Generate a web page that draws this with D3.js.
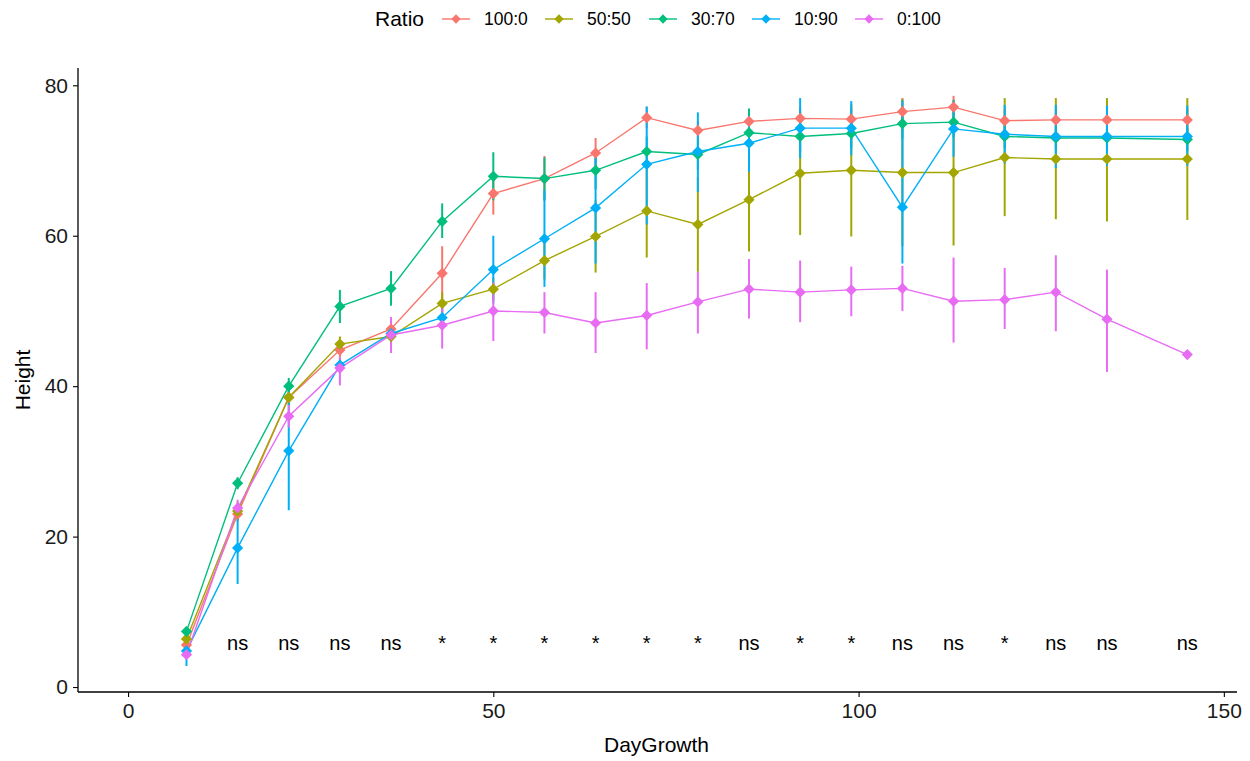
<!DOCTYPE html>
<html>
<head>
<meta charset="utf-8">
<script src="https://cdn.jsdelivr.net/npm/d3@7"></script>
<style>
  html, body { margin: 0; padding: 0; background: #ffffff; }
  svg { display: block; font-family: "Liberation Sans", Arial, sans-serif; }
</style>
</head>
<body>
<svg id="chart" width="1250" height="761"></svg>
<script>
// Sampling days
const days = [8, 15, 22, 29, 36, 43, 50, 57, 64, 71, 78, 85, 92, 99, 106, 113, 120, 127, 134, 145];

// Group names (Ratio) and colours
const ratios = ["100:0", "50:50", "30:70", "10:90", "0:100"];
const colors = ["#F8766D", "#A3A500", "#00BF7D", "#00B0F6", "#E76BF3"];

// Mean height per group
const mean100_0 = [5.6, 23.0, 38.5, 44.8, 47.6, 55.0, 65.6, 67.6, 71.0, 75.7, 74.0, 75.2, 75.6, 75.5, 76.5, 77.1, 75.3, 75.4, 75.4, 75.4];
const mean50_50 = [6.4, 23.4, 38.5, 45.6, 46.6, 51.0, 52.9, 56.7, 59.9, 63.3, 61.5, 64.8, 68.3, 68.7, 68.4, 68.4, 70.4, 70.2, 70.2, 70.2];
const mean30_70 = [7.4, 27.1, 40.0, 50.6, 53.0, 61.9, 67.9, 67.6, 68.7, 71.2, 70.8, 73.7, 73.2, 73.6, 74.9, 75.1, 73.2, 73.0, 73.0, 72.8];
const mean10_90 = [4.8, 18.5, 31.4, 42.8, 47.0, 49.1, 55.5, 59.6, 63.7, 69.5, 71.2, 72.3, 74.3, 74.3, 63.8, 74.2, 73.5, 73.2, 73.2, 73.2];
const mean0_100 = [4.3, 23.8, 36.0, 42.4, 46.8, 48.1, 50.0, 49.8, 48.4, 49.4, 51.2, 52.9, 52.5, 52.8, 53.0, 51.3, 51.5, 52.5, 48.9, 44.2];

// Error bar lower / upper limits per group
const low100_0 = [5.1, 22.0, 37.5, 43.8, 46.6, 51.4, 62.8, 64.6, 69.0, 74.3, 72.8, 73.9, 74.1, 74.0, 74.7, 75.6, 73.8, 73.9, 73.9, 73.9];
const high100_0 = [6.1, 24.0, 39.5, 45.8, 48.6, 58.6, 68.4, 70.6, 73.0, 77.1, 75.2, 76.5, 77.1, 77.0, 78.3, 78.6, 76.8, 76.9, 76.9, 76.9];
const low50_50 = [5.9, 22.2, 37.5, 44.6, 45.6, 49.5, 51.4, 54.2, 55.1, 57.1, 55.2, 57.9, 60.1, 59.9, 58.6, 58.7, 62.6, 62.2, 61.9, 62.1];
const high50_50 = [6.9, 24.6, 39.5, 46.6, 47.6, 52.5, 54.4, 59.2, 64.7, 69.5, 67.8, 71.7, 76.5, 77.5, 78.2, 78.1, 78.3, 78.3, 78.3, 78.3];
const low30_70 = [6.9, 26.3, 38.9, 48.4, 50.7, 59.7, 64.7, 64.8, 66.2, 69.2, 68.8, 70.5, 71.2, 71.6, 72.9, 73.1, 71.7, 71.5, 71.5, 71.3];
const high30_70 = [7.9, 27.9, 41.1, 52.8, 55.3, 64.3, 71.1, 70.4, 71.2, 73.2, 72.8, 76.9, 75.2, 75.6, 76.9, 77.1, 74.7, 74.5, 74.5, 74.3];
const low10_90 = [2.8, 13.7, 23.5, 41.8, 46.0, 47.8, 51.0, 53.2, 56.3, 61.5, 65.8, 68.5, 70.3, 70.7, 56.3, 70.5, 69.6, 69.0, 69.3, 69.3];
const high10_90 = [6.8, 23.3, 39.3, 43.8, 48.0, 50.4, 60.0, 66.0, 70.4, 77.2, 76.4, 76.0, 78.3, 77.9, 78.0, 78.0, 77.4, 77.4, 77.3, 77.3];
const low0_100 = [3.8, 22.7, 34.5, 40.1, 44.4, 45.0, 46.0, 47.0, 44.4, 44.9, 47.0, 49.0, 48.5, 49.3, 50.0, 45.8, 47.6, 47.3, 41.9, 44.2];
const high0_100 = [4.8, 24.9, 37.5, 43.8, 49.2, 51.2, 53.8, 52.5, 52.5, 53.7, 55.2, 56.9, 56.7, 55.9, 56.0, 57.1, 55.7, 57.4, 55.5, 44.2];

// Significance label for each day
const sigLabels = ["*", "ns", "ns", "ns", "ns", "*", "*", "*", "*", "*", "*", "ns", "*", "*", "ns", "ns", "*", "ns", "ns", "ns"];
const sigLabelY = 4.9;

// Axis ticks
const xTicks = [0, 50, 100, 150];
const yTicks = [0, 20, 40, 60, 80];

const means = [mean100_0, mean50_50, mean30_70, mean10_90, mean0_100];
const lows = [low100_0, low50_50, low30_70, low10_90, low0_100];
const highs = [high100_0, high50_50, high30_70, high10_90, high0_100];

const series = ratios.map((r, i) => ({
  name: r,
  color: colors[i],
  points: days.map((d, j) => ({ day: d, mean: means[i][j], lo: lows[i][j], hi: highs[i][j] }))
}));

const svg = d3.select("#chart");

const plotLeft = 78, plotRight = 1237, plotTop = 68, plotBottom = 692;

const x = d3.scaleLinear().domain([-6.85, 151.8]).range([plotLeft, plotRight]);
const y = d3.scaleLinear().domain([-0.66, 82.3]).range([plotBottom, plotTop]);

const plot = svg.append("g");

// Connecting lines
const line = d3.line().x(d => x(d.day)).y(d => y(d.mean));
plot.selectAll("path.series")
  .data(series)
  .join("path")
  .attr("class", "series")
  .attr("fill", "none")
  .attr("stroke", s => s.color)
  .attr("stroke-width", 1.4)
  .attr("d", s => line(s.points));

// Error bars (mean ± se)
series.forEach(s => {
  plot.append("g").selectAll("line")
    .data(s.points.filter(p => p.hi > p.lo))
    .join("line")
    .attr("x1", p => x(p.day)).attr("x2", p => x(p.day))
    .attr("y1", p => y(p.lo)).attr("y2", p => y(p.hi))
    .attr("stroke", s.color)
    .attr("stroke-width", 2);
});

// Significance labels
plot.append("g").selectAll("text")
  .data(days.map((d, i) => ({ day: d, label: sigLabels[i] })))
  .join("text")
  .attr("x", d => x(d.day))
  .attr("y", y(sigLabelY))
  .attr("text-anchor", "middle")
  .attr("font-size", 20)
  .attr("fill", "#000")
  .text(d => d.label);

// Diamond markers
const diamond = d3.symbol().type(d3.symbolDiamond2).size(80);
series.forEach(s => {
  plot.append("g").selectAll("path")
    .data(s.points)
    .join("path")
    .attr("transform", p => `translate(${x(p.day)},${y(p.mean)})`)
    .attr("d", diamond)
    .attr("fill", s.color);
});

// Axes
const xAxis = d3.axisBottom(x).tickValues(xTicks).tickSize(5).tickPadding(6);
const yAxis = d3.axisLeft(y).tickValues(yTicks).tickSize(5).tickPadding(5);

const gx = svg.append("g").attr("transform", `translate(0,${plotBottom})`).call(xAxis);
const gy = svg.append("g").attr("transform", `translate(${plotLeft},0)`).call(yAxis);

[gx, gy].forEach(g => {
  g.select(".domain").attr("stroke", "#000").attr("stroke-width", 1.3);
  g.selectAll(".tick line").attr("stroke", "#000").attr("stroke-width", 1.1);
  g.selectAll(".tick text").attr("fill", "#1a1a1a").attr("font-size", 21)
    .attr("font-family", "'Liberation Sans', Arial, sans-serif");
});
gx.select(".domain").attr("d", `M${plotLeft},0H${plotRight}`);
gy.select(".domain").attr("d", `M0,${plotBottom}V${plotTop}`);

// Axis titles
svg.append("text")
  .attr("x", (plotLeft + plotRight) / 2 - 1).attr("y", 752)
  .attr("text-anchor", "middle")
  .attr("font-size", 21).attr("fill", "#000")
  .text("DayGrowth");

svg.append("text")
  .attr("transform", `translate(30,${(plotTop + plotBottom) / 2}) rotate(-90)`)
  .attr("text-anchor", "middle")
  .attr("font-size", 21).attr("fill", "#000")
  .text("Height");

// Legend
const legend = svg.append("g");
legend.append("text")
  .attr("x", 375).attr("y", 26)
  .attr("font-size", 21).attr("fill", "#000")
  .text("Ratio");

const keyStarts = [442, 545, 649, 752, 855];
series.forEach((s, i) => {
  const kx = keyStarts[i];
  const g = legend.append("g");
  g.append("line")
    .attr("x1", kx).attr("x2", kx + 28)
    .attr("y1", 19).attr("y2", 19)
    .attr("stroke", s.color).attr("stroke-width", 1.4);
  g.append("path")
    .attr("transform", `translate(${kx + 14},19)`)
    .attr("d", d3.symbol().type(d3.symbolDiamond2).size(55))
    .attr("fill", s.color);
  g.append("text")
    .attr("x", kx + 42).attr("y", 25)
    .attr("font-size", 17.5).attr("fill", "#000")
    .text(s.name);
});
</script>
</body>
</html>
